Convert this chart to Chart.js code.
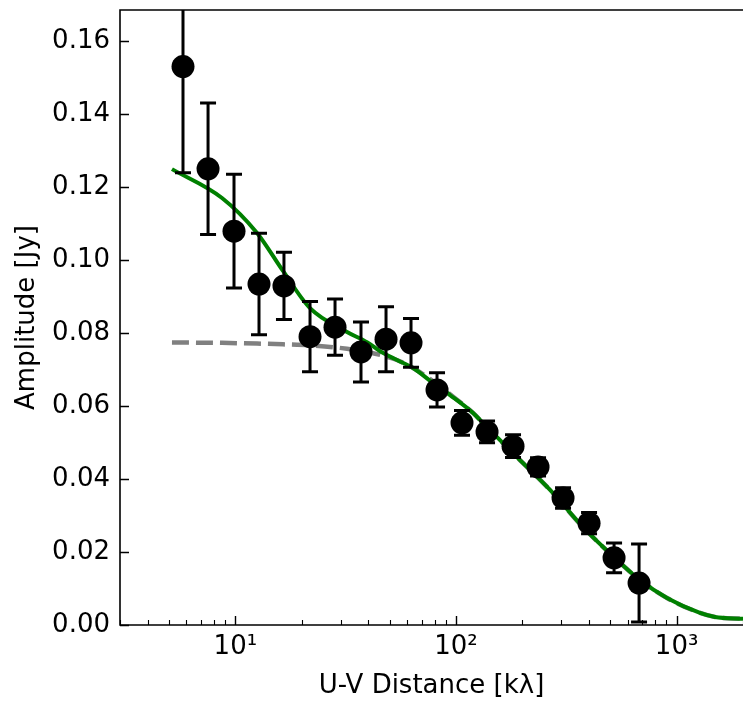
<!DOCTYPE html>
<html>
<head>
<meta charset="utf-8">
<script src="https://cdn.jsdelivr.net/npm/chart.js@4.4.1/dist/chart.umd.min.js"></script>
<style>
html,body{margin:0;padding:0;background:#ffffff;}
canvas{display:block;}
</style>
</head>
<body>
<canvas id="c" width="743" height="704"></canvas>
<script>
// ---- data ----
const uvDist = [5.79, 7.52, 9.86, 12.8, 16.61, 21.8, 28.3, 37.11, 48.19, 62.55, 82.06, 106.5, 138.3, 181.4, 235.5, 305.7, 401.1, 520.7, 675.9];
const amplitude = [0.1530, 0.1250, 0.1079, 0.0934, 0.0929, 0.0790, 0.0816, 0.0748, 0.0783, 0.0773, 0.0644, 0.0554, 0.0529, 0.0490, 0.0433, 0.0348, 0.0279, 0.0184, 0.0115];
const amplitudeErr = [0.0291, 0.0180, 0.0156, 0.0139, 0.0092, 0.0096, 0.0077, 0.0082, 0.0089, 0.0067, 0.0047, 0.0034, 0.0030, 0.0031, 0.0025, 0.0028, 0.0029, 0.0041, 0.0107];

const modelUV = [5.16, 8.7, 12.54, 16.44, 21.8, 32.07, 39.5, 45.3, 54.0, 63.9, 78.7, 94.0, 119.5, 132.7, 189, 267, 376.6, 537, 683, 905, 1277, 1493, 2001];
const modelTotal = [0.1249, 0.1170, 0.1074, 0.0970, 0.0868, 0.0803, 0.0775, 0.0750, 0.0726, 0.0704, 0.0663, 0.0630, 0.0581, 0.0553, 0.0460, 0.0370, 0.0268, 0.0178, 0.0123, 0.0074, 0.0033, 0.0022, 0.0017];
const modelCompact = [0.0774, 0.0773, 0.0771, 0.0769, 0.0766, 0.0757, 0.0748, 0.0740, 0.0726, 0.0704, 0.0668, 0.0632, 0.0581, 0.0553, 0.0460, 0.0370, 0.0268, 0.0178, 0.0123, 0.0074, 0.0033, 0.0022, 0.0017];

const yTickValues = [0.00, 0.02, 0.04, 0.06, 0.08, 0.10, 0.12, 0.14, 0.16];
const xMajorValues = [10, 100, 1000];
const xMajorLabels = ['10\u00B9', '10\u00B2', '10\u00B3'];
const xTitle = 'U-V Distance [k\u03BB]';
const yTitle = 'Amplitude [Jy]';

const FONT = 'DejaVu Sans';

const pairs = (xs, ys) => xs.map((v, i) => ({x: v, y: ys[i]}));

const decor = {
  id: 'decor',
  beforeDatasetDraw(chart, args) {
    if (args.index !== 0) return;
    const {ctx, chartArea: a, scales: {x, y}} = chart;
    ctx.save();
    ctx.beginPath();
    ctx.rect(a.left, a.top, a.right - a.left, a.bottom - a.top);
    ctx.clip();
    ctx.strokeStyle = '#000';
    ctx.lineWidth = 3;
    uvDist.forEach((u, i) => {
      const px = x.getPixelForValue(u);
      const yt = y.getPixelForValue(amplitude[i] + amplitudeErr[i]);
      const yb = y.getPixelForValue(amplitude[i] - amplitudeErr[i]);
      ctx.beginPath();
      ctx.moveTo(px, yt); ctx.lineTo(px, yb);
      ctx.moveTo(px - 8, yt); ctx.lineTo(px + 8, yt);
      ctx.moveTo(px - 8, yb); ctx.lineTo(px + 8, yb);
      ctx.stroke();
    });
    ctx.restore();
  },
  afterDraw(chart) {
    const {ctx, chartArea: a, scales: {x, y}} = chart;
    ctx.save();
    ctx.strokeStyle = '#000';
    ctx.lineWidth = 1.6;
    // spines: left, bottom, top (the right one falls outside the picture)
    ctx.beginPath();
    ctx.moveTo(a.right + 2, a.top); ctx.lineTo(a.left, a.top);
    ctx.lineTo(a.left, a.bottom); ctx.lineTo(a.right + 2, a.bottom);
    ctx.stroke();
    // y ticks (inward)
    ctx.lineWidth = 1.4;
    ctx.beginPath();
    yTickValues.forEach(v => {
      const py = Math.round(y.getPixelForValue(v)) + 0.5;
      ctx.moveTo(a.left, py); ctx.lineTo(a.left + 9, py);
    });
    // x major ticks
    xMajorValues.forEach(v => {
      const px = Math.round(x.getPixelForValue(v)) + 0.5;
      ctx.moveTo(px, a.bottom); ctx.lineTo(px, a.bottom - 9);
    });
    ctx.stroke();
    // x minor ticks
    ctx.lineWidth = 1.1;
    ctx.beginPath();
    [1, 10, 100, 1000].forEach(d => {
      for (let k = 2; k <= 9; k++) {
        const v = k * d;
        if (v < x.min || v > x.max) continue;
        const px = Math.round(x.getPixelForValue(v)) + 0.5;
        ctx.moveTo(px, a.bottom); ctx.lineTo(px, a.bottom - 5);
      }
    });
    ctx.stroke();
    ctx.restore();
  }
};

new Chart(document.getElementById('c'), {
  type: 'scatter',
  data: {
    datasets: [
      {
        label: 'data',
        data: pairs(uvDist, amplitude),
        backgroundColor: '#000000',
        borderWidth: 0,
        pointRadius: 11.5,
        pointHoverRadius: 11.5,
        showLine: false,
        order: 0
      },
      {
        label: 'total model',
        data: pairs(modelUV, modelTotal),
        borderColor: '#008000',
        borderWidth: 4,
        pointRadius: 0,
        showLine: true,
        cubicInterpolationMode: 'monotone',
        order: 1
      },
      {
        label: 'compact model',
        data: pairs(modelUV, modelCompact),
        borderColor: '#808080',
        borderWidth: 4.5,
        borderDash: [17, 7],
        pointRadius: 0,
        showLine: true,
        cubicInterpolationMode: 'monotone',
        order: 2
      }
    ]
  },
  options: {
    responsive: false,
    animation: false,
    events: [],
    layout: {autoPadding: false, padding: {top: 10, left: 0, right: 0, bottom: 0}},
    plugins: {legend: {display: false}, tooltip: {enabled: false}},
    scales: {
      x: {
        type: 'logarithmic',
        min: 3,
        max: 2000,
        border: {display: false},
        grid: {display: false, drawTicks: false},
        afterBuildTicks: s => { s.ticks = xMajorValues.map(v => ({value: v, major: true})); },
        afterFit: s => { s.height = 79; s.paddingLeft = 0; s.paddingRight = 0; s.paddingTop = 0; s.paddingBottom = 0; },
        ticks: {
          autoSkip: false,
          maxRotation: 0,
          padding: 7,
          color: '#000',
          font: {family: FONT, size: 26},
          callback: (v) => { const i = xMajorValues.indexOf(v); return i >= 0 ? xMajorLabels[i] : ''; }
        },
        title: {display: true, text: xTitle, color: '#000', font: {family: FONT, size: 26}, padding: {top: 0, bottom: 2}}
      },
      y: {
        type: 'linear',
        min: 0,
        max: 0.1685,
        border: {display: false},
        grid: {display: false, drawTicks: false},
        afterBuildTicks: s => { s.ticks = yTickValues.map(v => ({value: v})); },
        afterFit: s => { s.width = 120; s.paddingLeft = 0; s.paddingRight = 0; s.paddingTop = 0; s.paddingBottom = 0; },
        ticks: {
          autoSkip: false,
          padding: 10,
          color: '#000',
          font: {family: FONT, size: 26},
          callback: (v) => Number(v).toFixed(2)
        },
        title: {display: true, text: yTitle, color: '#000', font: {family: FONT, size: 26}, padding: {top: 12, bottom: 0}}
      }
    }
  },
  plugins: [decor]
});
</script>
</body>
</html>
